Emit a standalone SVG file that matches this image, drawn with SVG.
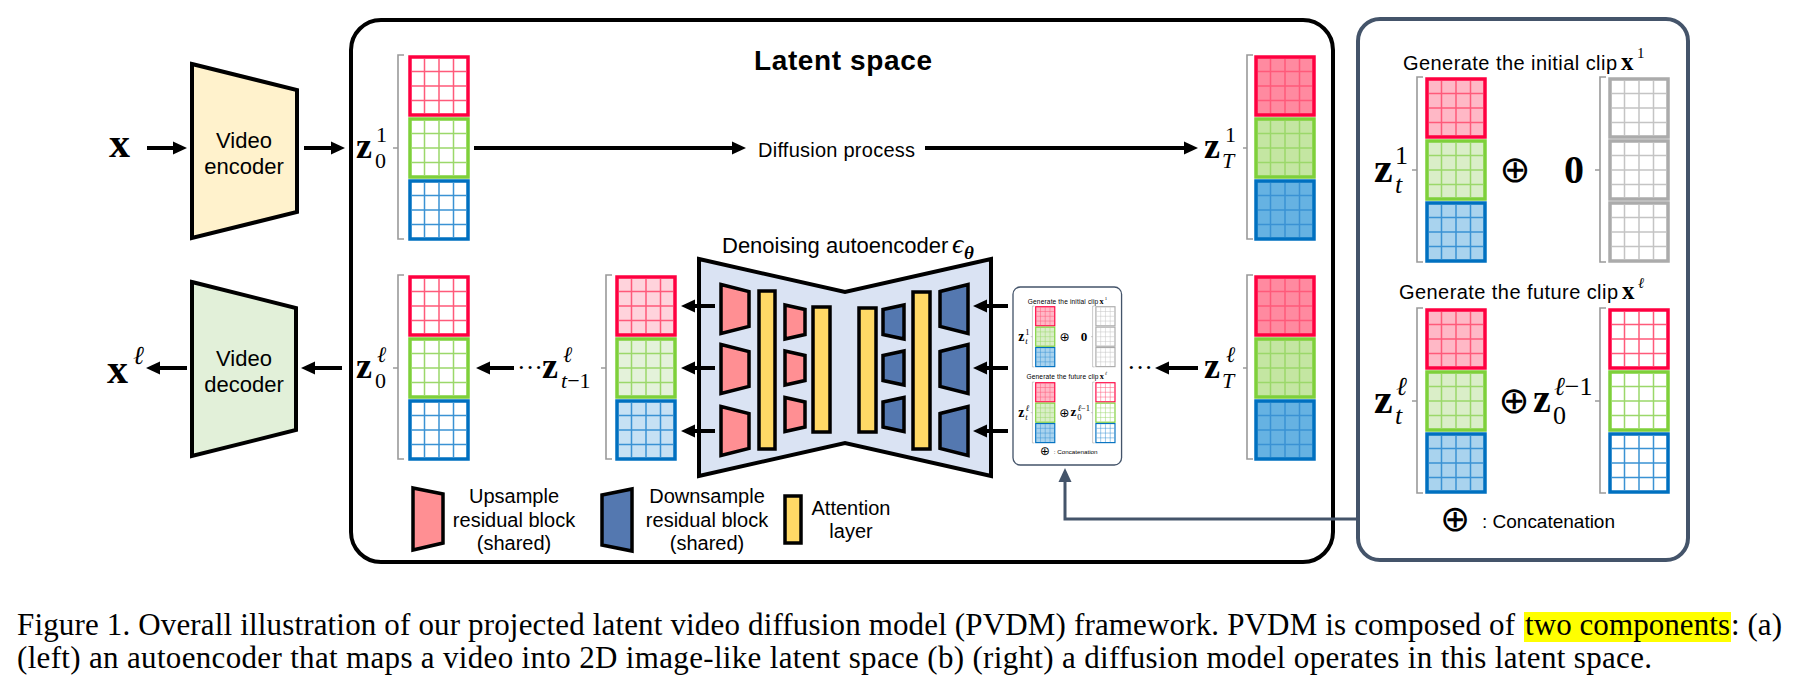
<svg xmlns="http://www.w3.org/2000/svg" xmlns:xlink="http://www.w3.org/1999/xlink" width="1794" height="692" viewBox="0 0 1794 692">
<style>
.t{font-family:"Liberation Sans","Noto Sans",sans-serif;fill:#000}
.m{font-family:"Liberation Serif","DejaVu Serif",serif;fill:#000}
.op{font-family:"DejaVu Sans",sans-serif;fill:#000}
.cap{font-family:"Liberation Serif","Times New Roman",serif;font-size:31px;fill:#000}
.b{font-weight:bold}
.i{font-style:italic}
.arr{stroke:#000;stroke-width:4;fill:none;marker-end:url(#ah)}
.sarr{stroke:#44546A;stroke-width:3;fill:none;marker-end:url(#ahs)}
.br{fill:none;stroke:#9A9A9A;stroke-width:1.6}
.blk{stroke:#000;stroke-width:3.5;stroke-linejoin:miter}
.pk{fill:#FF8F93}
.bl{fill:#5478B0}
.yl{fill:#FFD966}
.bR{stroke:#FF0040;stroke-width:3.5}
.bG{stroke:#7ED03A;stroke-width:3.5}
.bB{stroke:#0070C0;stroke-width:3.5}
.bK{stroke:#ABABAB;stroke-width:3.5}
.fW{fill:#fff}
.fRs{fill:#FF8AA0}.fGs{fill:#C4E6A2}.fBs{fill:#66B2E2}
.fRm{fill:#FFB8C6}.fGm{fill:#DAEEC8}.fBm{fill:#A9D3EE}
.fRl{fill:#FFD3DC}.fGl{fill:#E4F2DA}.fBl{fill:#C6E1F4}
.lR{stroke:#FF5A7A}.lG{stroke:#9BD86A}.lB{stroke:#3A92D4}.lK{stroke:#C4C4C4}
</style>
<defs>
<marker id="ah" viewBox="0 0 14 14" markerWidth="14" markerHeight="14" markerUnits="userSpaceOnUse" refX="2" refY="7" orient="auto"><path d="M0,0.5 L14,7 L0,13.5 Z" fill="#000"/></marker>
<marker id="ahs" viewBox="0 0 14 14" markerWidth="14" markerHeight="14" markerUnits="userSpaceOnUse" refX="2" refY="7" orient="auto"><path d="M0,0.5 L14,7 L0,13.5 Z" fill="#44546A"/></marker>
<path id="g4" fill="none" stroke-width="1.5" d="M14.5 2V56M29 2V56M43.5 2V56M2 14.5H56M2 29H56M2 43.5H56"/>
</defs>
<rect width="1794" height="692" fill="#fff"/>

<g id="input-x"><text class="m b" x="109" y="157" font-size="42">x</text></g>

<g id="video-encoder">
<polygon points="192,64 297,90 297,212 192,238" fill="#FFF2CC" stroke="#000" stroke-width="4"/>
<text class="t" x="244" y="148" font-size="22" text-anchor="middle">Video</text>
<text class="t" x="244" y="174" font-size="22" text-anchor="middle">encoder</text>
</g>

<g id="video-decoder">
<polygon points="192,282 296,308 296,430 192,456" fill="#E2F0D9" stroke="#000" stroke-width="4"/>
<text class="t" x="244" y="366" font-size="22" text-anchor="middle">Video</text>
<text class="t" x="244" y="392" font-size="22" text-anchor="middle">decoder</text>
</g>

<g id="output-x"><text class="m b" x="107" y="383" font-size="42">x</text><text class="m i" x="133" y="364" font-size="26">ℓ</text></g>

<g id="latent-space">
<rect x="351" y="20" width="982" height="542" rx="30" fill="none" stroke="#000" stroke-width="4"/>
<text class="t b" x="843" y="70" font-size="28" text-anchor="middle" textLength="178">Latent space</text>
</g>

<g id="z0-1">
<text class="m b" x="356" y="158" font-size="36">z</text><text class="m" x="376" y="142" font-size="22">1</text><text class="m" x="375" y="168" font-size="22">0</text>
<path class="br" d="M404 55H398V239H404M398 148H393"/>
<g transform="translate(410,57)">
<rect width="58" height="58" class="bR fW"/><use href="#g4" class="lR"/>
<rect y="62" width="58" height="58" class="bG fW"/><use href="#g4" y="62" class="lG"/>
<rect y="124" width="58" height="58" class="bB fW"/><use href="#g4" y="124" class="lB"/>
</g>
</g>

<g id="z0-l">
<text class="m b" x="356" y="378" font-size="36">z</text><text class="m i" x="377" y="362" font-size="22">ℓ</text><text class="m" x="375" y="388" font-size="22">0</text>
<path class="br" d="M404 275H398V459H404M398 368H393"/>
<g transform="translate(410,277)">
<rect width="58" height="58" class="bR fW"/><use href="#g4" class="lR"/>
<rect y="62" width="58" height="58" class="bG fW"/><use href="#g4" y="62" class="lG"/>
<rect y="124" width="58" height="58" class="bB fW"/><use href="#g4" y="124" class="lB"/>
</g>
</g>

<g id="zt1-l">
<text class="m" x="517" y="376" font-size="26">···</text>
<text class="m b" x="542" y="378" font-size="36">z</text><text class="m i" x="563" y="362" font-size="22">ℓ</text><text class="m" x="561" y="388" font-size="22"><tspan class="i">t</tspan>−1</text>
<path class="br" d="M612 275H606V459H612M606 368H601"/>
<g transform="translate(617,277)">
<rect width="58" height="58" class="bR fRl"/><use href="#g4" class="lR"/>
<rect y="62" width="58" height="58" class="bG fGl"/><use href="#g4" y="62" class="lG"/>
<rect y="124" width="58" height="58" class="bB fBl"/><use href="#g4" y="124" class="lB"/>
</g>
</g>

<g id="zT-1">
<text class="m b" x="1204" y="158" font-size="36">z</text><text class="m" x="1225" y="142" font-size="22">1</text><text class="m i" x="1222" y="168" font-size="22">T</text>
<path class="br" d="M1253 55H1247V239H1253M1247 148H1243"/>
<g transform="translate(1256,57)">
<rect width="58" height="58" class="bR fRs"/><use href="#g4" class="lR"/>
<rect y="62" width="58" height="58" class="bG fGs"/><use href="#g4" y="62" class="lG"/>
<rect y="124" width="58" height="58" class="bB fBs"/><use href="#g4" y="124" class="lB"/>
</g>
</g>

<g id="zT-l">
<text class="m" x="1127" y="376" font-size="26">···</text>
<text class="m b" x="1204" y="378" font-size="36">z</text><text class="m i" x="1226" y="362" font-size="22">ℓ</text><text class="m i" x="1222" y="388" font-size="22">T</text>
<path class="br" d="M1253 275H1247V459H1253M1247 368H1243"/>
<g transform="translate(1256,277)">
<rect width="58" height="58" class="bR fRs"/><use href="#g4" class="lR"/>
<rect y="62" width="58" height="58" class="bG fGs"/><use href="#g4" y="62" class="lG"/>
<rect y="124" width="58" height="58" class="bB fBs"/><use href="#g4" y="124" class="lB"/>
</g>
</g>

<g id="denoising-autoencoder">
<text class="t" x="722" y="253" font-size="22">Denoising autoencoder</text>
<text class="m i" x="952" y="253" font-size="28">ϵ</text><text class="m b i" x="964" y="259" font-size="19">θ</text>
<polygon points="699,259 845,292 991,259 991,476 845,443 699,476" fill="#DAE3F3" stroke="#000" stroke-width="4" stroke-linejoin="miter"/>
<g class="blk pk">
<polygon points="721,284.5 749,291.5 749,326.5 721,333.5"/>
<polygon points="721,344.5 749,351.5 749,386.5 721,393.5"/>
<polygon points="721,406.5 749,413.5 749,448.5 721,455.5"/>
<polygon points="785,305 805,309.5 805,334.5 785,339"/>
<polygon points="785,351 805,355.5 805,380.5 785,385"/>
<polygon points="785,397.5 805,402 805,427 785,431.5"/>
</g>
<g class="blk bl">
<polygon points="883,309.5 904,305 904,339 883,334.5"/>
<polygon points="883,355.5 904,351 904,385 883,380.5"/>
<polygon points="883,402 904,397.5 904,431.5 883,427"/>
<polygon points="940,291.5 968,284.5 968,333.5 940,326.5"/>
<polygon points="940,351.5 968,344.5 968,393.5 940,386.5"/>
<polygon points="940,413.5 968,406.5 968,455.5 940,448.5"/>
</g>
<g class="blk yl">
<rect x="759" y="291" width="16" height="158"/>
<rect x="813" y="307" width="17" height="125"/>
<rect x="859" y="308" width="17" height="124"/>
<rect x="913" y="292" width="17" height="157"/>
</g>
</g>

<g id="legend">
<polygon points="413,488 443,494 443,543 413,550" class="blk pk" stroke-width="4"/>
<text class="t" x="514" y="503" font-size="20" text-anchor="middle">Upsample</text>
<text class="t" x="514" y="527" font-size="20" text-anchor="middle">residual block</text>
<text class="t" x="514" y="550" font-size="20" text-anchor="middle">(shared)</text>
<polygon points="602,495 632,489 632,551 602,545" class="blk bl" stroke-width="4"/>
<text class="t" x="707" y="503" font-size="20" text-anchor="middle">Downsample</text>
<text class="t" x="707" y="527" font-size="20" text-anchor="middle">residual block</text>
<text class="t" x="707" y="550" font-size="20" text-anchor="middle">(shared)</text>
<rect x="785" y="496" width="16" height="47" class="blk yl" stroke-width="4"/>
<text class="t" x="851" y="515" font-size="20" text-anchor="middle">Attention</text>
<text class="t" x="851" y="538" font-size="20" text-anchor="middle">layer</text>
</g>

<g id="right-panel">
<rect x="1358" y="19" width="330" height="541" rx="22" fill="#fff" stroke="#44546A" stroke-width="4"/>
<text class="t" x="1403" y="70" font-size="20" textLength="214">Generate the initial clip</text>
<text class="m b" x="1621" y="70" font-size="25">x</text><text class="m" x="1637" y="58" font-size="15">1</text>
<text class="m b" x="1374" y="182" font-size="42">z</text><text class="m" x="1395" y="164" font-size="26">1</text><text class="m i" x="1395" y="193" font-size="26">t</text>
<path class="br" d="M1423 77H1417V262H1423M1417 170H1412"/>
<g transform="translate(1427,79)">
<rect width="58" height="58" class="bR fRm"/><use href="#g4" class="lR"/>
<rect y="62" width="58" height="58" class="bG fGm"/><use href="#g4" y="62" class="lG"/>
<rect y="124" width="58" height="58" class="bB fBm"/><use href="#g4" y="124" class="lB"/>
</g>
<text class="op" x="1515" y="182" font-size="37" text-anchor="middle">⊕</text>
<text class="m b" x="1564" y="183" font-size="40">0</text>
<path class="br" d="M1606 77H1600V262H1606M1600 170H1595"/>
<g transform="translate(1610,79)">
<rect width="58" height="58" class="bK fW"/><use href="#g4" class="lK"/>
<rect y="62" width="58" height="58" class="bK fW"/><use href="#g4" y="62" class="lK"/>
<rect y="124" width="58" height="58" class="bK fW"/><use href="#g4" y="124" class="lK"/>
</g>
<text class="t" x="1399" y="299" font-size="20" textLength="219">Generate the future clip</text>
<text class="m b" x="1622" y="299" font-size="25">x</text><text class="m i" x="1638" y="288" font-size="15">ℓ</text>
<text class="m b" x="1374" y="413" font-size="42">z</text><text class="m i" x="1396" y="395" font-size="26">ℓ</text><text class="m i" x="1395" y="424" font-size="26">t</text>
<path class="br" d="M1423 308H1417V493H1423M1417 401H1412"/>
<g transform="translate(1427,310)">
<rect width="58" height="58" class="bR fRm"/><use href="#g4" class="lR"/>
<rect y="62" width="58" height="58" class="bG fGm"/><use href="#g4" y="62" class="lG"/>
<rect y="124" width="58" height="58" class="bB fBm"/><use href="#g4" y="124" class="lB"/>
</g>
<text class="op" x="1514" y="413" font-size="37" text-anchor="middle">⊕</text>
<text class="m b" x="1533" y="412" font-size="40">z</text><text class="m" x="1553" y="424" font-size="26">0</text><text class="m" x="1554" y="395" font-size="26"><tspan class="i">ℓ</tspan>−1</text>
<path class="br" d="M1606 308H1600V493H1606M1600 401H1595"/>
<g transform="translate(1610,310)">
<rect width="58" height="58" class="bR fW"/><use href="#g4" class="lR"/>
<rect y="62" width="58" height="58" class="bG fW"/><use href="#g4" y="62" class="lG"/>
<rect y="124" width="58" height="58" class="bB fW"/><use href="#g4" y="124" class="lB"/>
</g>
<text class="op" x="1455" y="531" font-size="36" text-anchor="middle">⊕</text>
<text class="t" x="1482" y="528" font-size="19" textLength="133">: Concatenation</text>
</g>

<g id="inset">
<use href="#right-panel" transform="translate(1013,287) scale(0.329) translate(-1358,-19)"/>
</g>

<g id="connectors">
<path class="arr" d="M147 148H175"/>
<path class="arr" d="M304 148H333"/>
<path class="arr" d="M474 148H734"/>
<text class="t" x="758" y="157" font-size="20" textLength="157">Diffusion process</text>
<path class="arr" d="M925 148H1186"/>
<path class="arr" d="M342 368H313"/>
<path class="arr" d="M187 368H158"/>
<path class="arr" d="M514 368H488"/>
<path class="arr" d="M715 306H693"/>
<path class="arr" d="M715 368H693"/>
<path class="arr" d="M715 431H693"/>
<path class="arr" d="M1008 306H985"/>
<path class="arr" d="M1008 368H985"/>
<path class="arr" d="M1008 431H985"/>
<path class="arr" d="M1198 368H1167"/>
<path class="sarr" d="M1358 519H1065V480"/>
</g>

<g id="caption">
<rect x="1524" y="612" width="207" height="30" fill="#FFFF00"/>
<text class="cap" x="17" y="635" textLength="1498">Figure 1. Overall illustration of our projected latent video diffusion model (PVDM) framework. PVDM is composed of</text>
<text class="cap" x="1525" y="635" textLength="205">two components</text>
<text class="cap" x="1731" y="635" textLength="51">: (a)</text>
<text class="cap" x="17" y="668" textLength="1635">(left) an autoencoder that maps a video into 2D image-like latent space (b) (right) a diffusion model operates in this latent space.</text>
</g>
</svg>
